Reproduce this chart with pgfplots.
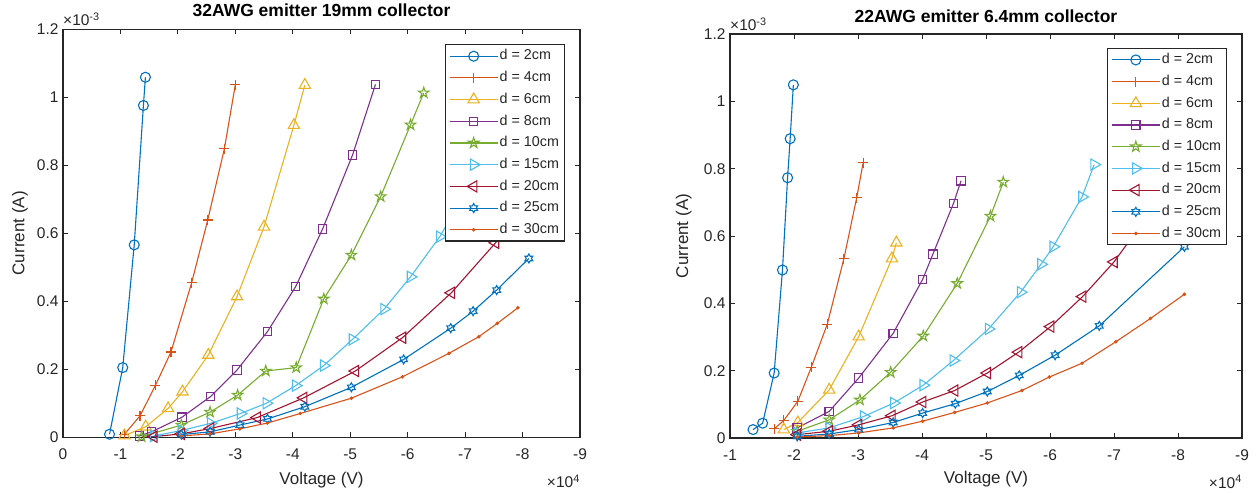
\documentclass[border=0pt]{standalone}
\usepackage{pgfplots}
\pgfplotsset{compat=1.18}
\usepackage{fontspec}
\setmainfont{Liberation Sans}
\usetikzlibrary{plotmarks}
\definecolor{c1}{rgb}{0,0.447,0.741}
\definecolor{c2}{rgb}{0.85,0.325,0.098}
\definecolor{c3}{rgb}{0.929,0.694,0.125}
\definecolor{c4}{rgb}{0.494,0.184,0.556}
\definecolor{c5}{rgb}{0.466,0.674,0.188}
\definecolor{c6}{rgb}{0.301,0.745,0.933}
\definecolor{c7}{rgb}{0.635,0.078,0.184}
\definecolor{axc}{rgb}{0.15,0.15,0.15}
\newcommand\ticfont{\fontsize{15.5}{18}\selectfont}
\newcommand\labfont{\fontsize{17}{20}\selectfont}
\newcommand\titfont{\fontsize{17.5}{20}\selectfont\bfseries}
\newcommand\legfont{\fontsize{14.3}{17}\selectfont}
\pgfdeclareplotmark{pentagram}{%
 \pgfpathmoveto{\pgfpointpolar{90}{\pgfplotmarksize}}%
 \pgfpathlineto{\pgfpointpolar{126}{0.382\pgfplotmarksize}}%
 \pgfpathlineto{\pgfpointpolar{162}{\pgfplotmarksize}}%
 \pgfpathlineto{\pgfpointpolar{198}{0.382\pgfplotmarksize}}%
 \pgfpathlineto{\pgfpointpolar{234}{\pgfplotmarksize}}%
 \pgfpathlineto{\pgfpointpolar{270}{0.382\pgfplotmarksize}}%
 \pgfpathlineto{\pgfpointpolar{306}{\pgfplotmarksize}}%
 \pgfpathlineto{\pgfpointpolar{342}{0.382\pgfplotmarksize}}%
 \pgfpathlineto{\pgfpointpolar{18}{\pgfplotmarksize}}%
 \pgfpathlineto{\pgfpointpolar{54}{0.382\pgfplotmarksize}}%
 \pgfpathclose\pgfusepathqstroke}
\pgfdeclareplotmark{hexagram}{%
 \pgfpathmoveto{\pgfpointpolar{90}{\pgfplotmarksize}}%
 \pgfpathlineto{\pgfpointpolar{120}{0.577\pgfplotmarksize}}%
 \pgfpathlineto{\pgfpointpolar{150}{\pgfplotmarksize}}%
 \pgfpathlineto{\pgfpointpolar{180}{0.577\pgfplotmarksize}}%
 \pgfpathlineto{\pgfpointpolar{210}{\pgfplotmarksize}}%
 \pgfpathlineto{\pgfpointpolar{240}{0.577\pgfplotmarksize}}%
 \pgfpathlineto{\pgfpointpolar{270}{\pgfplotmarksize}}%
 \pgfpathlineto{\pgfpointpolar{300}{0.577\pgfplotmarksize}}%
 \pgfpathlineto{\pgfpointpolar{330}{\pgfplotmarksize}}%
 \pgfpathlineto{\pgfpointpolar{0}{0.577\pgfplotmarksize}}%
 \pgfpathlineto{\pgfpointpolar{30}{\pgfplotmarksize}}%
 \pgfpathlineto{\pgfpointpolar{60}{0.577\pgfplotmarksize}}%
 \pgfpathclose\pgfusepathqstroke}
\pgfplotsset{
 mat/.style={
  scale only axis, anchor=south west,
  x dir=reverse, xmax=0, xmin=-9, ymin=0, ymax=1.2,
  scaled ticks=false, clip=false,
  axis line style={axc, line width=1.1pt},
  tick style={axc, line width=0.9pt}, major tick length=5pt, tick align=inside,
  ytick={0,0.2,0.4,0.6,0.8,1,1.2},
  yticklabels={0,0.2,0.4,0.6,0.8,1,1.2},
  ticklabel style={font=\ticfont, text=axc},
  yticklabel style={xshift=-1pt},
  xticklabel style={yshift=-8pt},
  xlabel={Voltage (V)}, ylabel={Current (A)},
  label style={font=\labfont, text=axc},
  title style={font=\titfont, text=black, anchor=center},
  every axis plot/.append style={line width=1.1pt, mark options={solid}},
  legend cell align=left,
  legend image code/.code={\draw[mark repeat=2,mark phase=2,##1] plot coordinates {(0pt,0pt) (24pt,0pt) (48pt,0pt)};},
  legend style={anchor=north east, draw=axc, line width=1.1pt, fill=white, font=\legfont, text=axc,
    inner xsep=4pt, inner ysep=3pt, row sep=5.2pt,
    nodes={inner sep=1.5pt, text height=10.5pt, text depth=3pt}},
 },
 m1/.style={color=c1, mark=o, mark size=5pt},
 m2/.style={color=c2, mark=+, mark size=5pt},
 m3/.style={color=c3, mark=triangle, mark size=6.5pt},
 m4/.style={color=c4, mark=square, mark size=4.2pt},
 m5/.style={color=c5, mark=pentagram, mark size=5.5pt},
 m6/.style={color=c6, mark=triangle, mark size=6.5pt, mark options={solid, rotate=-90}},
 m7/.style={color=c7, mark=triangle, mark size=6.5pt, mark options={solid, rotate=90}},
 m8/.style={color=c1, mark=hexagram, mark size=4.5pt},
 m9/.style={color=c2, mark=*, mark size=1.2pt},
}
\begin{document}
\begin{tikzpicture}[x=1pt,y=1pt]
\path[use as bounding box] (0,0) rectangle (1256,493);
\begin{axis}[mat, name=L, at={(63pt,55.7pt)}, width=517pt, height=408pt,
  xtick={0,-1,-2,-3,-4,-5,-6,-7,-8,-9},
  xticklabels={0,-1,-2,-3,-4,-5,-6,-7,-8,-9},
  title={32AWG emitter 19mm collector}, title style={at={(0.5,1.031)}},
  xlabel style={at={(axis description cs:0.5,-0.106)}, anchor=center},
  ylabel style={at={(axis description cs:-0.083,0.5)}, anchor=center},
  legend style={at={(0.971,0.963)}}]
\addplot[m1] coordinates {(-0.81,0.009) (-1.04,0.205) (-1.24,0.566) (-1.40,0.976) (-1.435,1.059)};
\addplot[m2] coordinates {(-1.07,0.009) (-1.34,0.063) (-1.61,0.153) (-1.88,0.251) (-2.24,0.455) (-2.52,0.639) (-2.81,0.849) (-3.00,1.037)};
\addplot[m3] coordinates {(-1.07,0.005) (-1.44,0.031) (-1.83,0.085) (-2.08,0.134) (-2.53,0.242) (-3.03,0.414) (-3.50,0.619) (-4.02,0.918) (-4.21,1.036)};
\addplot[m4] coordinates {(-1.33,0.004) (-1.54,0.016) (-2.07,0.059) (-2.57,0.120) (-3.03,0.198) (-3.56,0.311) (-4.05,0.443) (-4.52,0.613) (-5.04,0.830) (-5.44,1.038)};
\addplot[m5] coordinates {(-1.37,0.002) (-2.06,0.036) (-2.56,0.074) (-3.04,0.124) (-3.53,0.195) (-4.06,0.205) (-4.54,0.407) (-5.02,0.536) (-5.53,0.708) (-6.05,0.919) (-6.28,1.013)};
\addplot[m6] coordinates {(-1.58,0.004) (-2.06,0.020) (-2.57,0.041) (-3.09,0.070) (-3.54,0.100) (-4.05,0.152) (-4.54,0.211) (-5.04,0.288) (-5.59,0.377) (-6.05,0.472) (-6.56,0.590) (-7.00,0.720)};
\addplot[m7] coordinates {(-1.58,0.002) (-2.06,0.010) (-2.57,0.026) (-3.38,0.058) (-4.19,0.116) (-5.09,0.195) (-5.91,0.293) (-6.76,0.425) (-7.53,0.572) (-7.95,0.660)};
\addplot[m8] coordinates {(-2.06,0.008) (-2.56,0.016) (-3.08,0.036) (-3.56,0.054) (-4.21,0.090) (-5.02,0.147) (-5.93,0.229) (-6.75,0.321) (-7.14,0.371) (-7.55,0.433) (-8.11,0.526)};
\addplot[m9] coordinates {(-2.06,0.004) (-2.56,0.010) (-3.08,0.025) (-3.56,0.042) (-4.13,0.070) (-5.02,0.115) (-5.91,0.178) (-6.72,0.247) (-7.24,0.296) (-7.56,0.335) (-7.92,0.381)};
\legend{d = 2cm, d = 4cm, d = 6cm, d = 8cm, d = 10cm, d = 15cm, d = 20cm, d = 25cm, d = 30cm}
\end{axis}
\node[anchor=base west, font=\ticfont, text=axc, inner sep=0pt] at ([yshift=4pt]L.north west) {×10\textsuperscript{-3}};
\node[anchor=base east, font=\ticfont, text=axc, inner sep=0pt] at ([yshift=-50.5pt]L.south east) {×10\textsuperscript{4}};
\begin{axis}[mat, name=R, at={(730pt,55pt)}, width=512pt, height=404pt, xmax=-1,
  xtick={-1,-2,-3,-4,-5,-6,-7,-8,-9},
  xticklabels={-1,-2,-3,-4,-5,-6,-7,-8,-9},
  title={22AWG emitter 6.4mm collector}, title style={at={(0.5,1.030)}},
  xlabel style={at={(axis description cs:0.5,-0.102)}, anchor=center},
  ylabel style={at={(axis description cs:-0.0904,0.5)}, anchor=center},
  legend style={at={(0.971,0.965)}}]
\addplot[m1] coordinates {(-1.36,0.025) (-1.51,0.044) (-1.69,0.193) (-1.82,0.499) (-1.90,0.773) (-1.94,0.889) (-1.99,1.049)};
\addplot[m2] coordinates {(-1.69,0.027) (-1.84,0.052) (-2.06,0.109) (-2.27,0.210) (-2.52,0.338) (-2.78,0.533) (-2.98,0.714) (-3.08,0.817)};
\addplot[m3] coordinates {(-1.84,0.025) (-2.06,0.046) (-2.55,0.143) (-3.01,0.301) (-3.53,0.533) (-3.60,0.580)};
\addplot[m4] coordinates {(-2.05,0.030) (-2.55,0.079) (-3.01,0.178) (-3.55,0.311) (-4.01,0.471) (-4.17,0.546) (-4.49,0.696) (-4.61,0.764)};
\addplot[m5] coordinates {(-2.05,0.020) (-2.55,0.054) (-3.03,0.113) (-3.51,0.195) (-4.02,0.303) (-4.55,0.459) (-5.07,0.659) (-5.27,0.760)};
\addplot[m6] coordinates {(-2.05,0.015) (-2.55,0.030) (-3.09,0.064) (-3.56,0.104) (-4.02,0.157) (-4.49,0.230) (-5.04,0.324) (-5.54,0.433) (-5.86,0.516) (-6.05,0.568) (-6.50,0.716) (-6.69,0.812)};
\addplot[m7] coordinates {(-2.05,0.010) (-2.55,0.020) (-3.01,0.039) (-3.53,0.066) (-4.01,0.107) (-4.51,0.141) (-5.02,0.193) (-5.51,0.255) (-6.01,0.331) (-6.51,0.420) (-7.00,0.523) (-7.60,0.680)};
\addplot[m8] coordinates {(-2.05,0.005) (-2.55,0.012) (-3.01,0.025) (-3.55,0.046) (-4.01,0.074) (-4.52,0.102) (-5.02,0.138) (-5.52,0.186) (-6.08,0.246) (-6.77,0.333) (-8.10,0.568)};
\addplot[m9] coordinates {(-2.05,0.003) (-2.55,0.007) (-3.01,0.015) (-3.55,0.030) (-4.01,0.050) (-4.51,0.076) (-5.02,0.104) (-5.56,0.141) (-5.99,0.181) (-6.50,0.222) (-7.03,0.286) (-7.57,0.355) (-8.10,0.427)};
\legend{d = 2cm, d = 4cm, d = 6cm, d = 8cm, d = 10cm, d = 15cm, d = 20cm, d = 25cm, d = 30cm}
\end{axis}
\node[anchor=base west, font=\ticfont, text=axc, inner sep=0pt] at ([yshift=3pt]R.north west) {×10\textsuperscript{-3}};
\node[anchor=base east, font=\ticfont, text=axc, inner sep=0pt] at ([yshift=-50pt]R.south east) {×10\textsuperscript{4}};
\end{tikzpicture}
\end{document}
